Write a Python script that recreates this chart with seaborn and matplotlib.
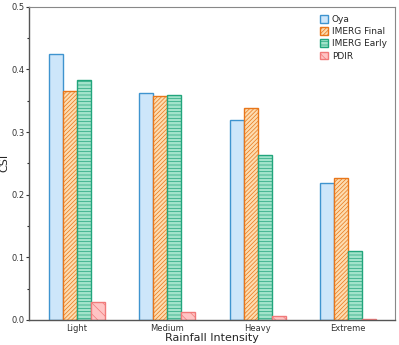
import matplotlib
matplotlib.use("Agg")
import matplotlib.pyplot as plt
import seaborn as sns
import pandas as pd
import numpy as np
from matplotlib.ticker import MultipleLocator
from matplotlib.patches import Patch

categories = ["Light", "Medium", "Heavy", "Extreme"]
products = ["Oya", "IMERG Final", "IMERG Early", "PDIR"]
oya = [0.425, 0.362, 0.319, 0.218]
imerg_final = [0.366, 0.357, 0.338, 0.227]
imerg_early = [0.383, 0.359, 0.263, 0.110]
pdir = [0.028, 0.013, 0.006, 0.002]

values = [oya, imerg_final, imerg_early, pdir]
rows = []
for p, vals in zip(products, values):
    for c, v in zip(categories, vals):
        rows.append({"Rainfall Intensity": c, "CSI": v, "Product": p})
df = pd.DataFrame(rows)

faces = ["#cde6fa", "#fddcb0", "#a3e3cb", "#ffc4c4"]
edges = ["#3f94cf", "#e8761a", "#22a57c", "#f07a7a"]
hatches = [None, "////////", "-----", "\\\\\\"]

sns.set_style("white")
plt.rcParams["font.family"] = ["DejaVu Sans"]
plt.rcParams["hatch.linewidth"] = 0.5

fig = plt.figure(figsize=(3.99, 3.45), dpi=100)
ax = fig.add_axes([0.073, 0.073, 0.917, 0.907])

sns.barplot(data=df, x="Rainfall Intensity", y="CSI", hue="Product",
            order=categories, hue_order=products, width=0.62,
            palette=faces, ax=ax, legend=False, saturation=1)

for i, container in enumerate(ax.containers):
    for bar in container:
        bar.set_facecolor(faces[i])
        bar.set_edgecolor(edges[i])
        bar.set_linewidth(1.0)
        if hatches[i]:
            bar.set_hatch(hatches[i])

ax.set_ylim(0, 0.5)
ax.set_xlim(-0.53, 3.52)
ax.yaxis.set_major_locator(MultipleLocator(0.1))
ax.yaxis.set_minor_locator(MultipleLocator(0.05))
ax.set_yticklabels([f"{t:.1f}" for t in ax.get_yticks()])
ax.tick_params(axis="both", which="major", labelsize=6, length=2.5, width=0.8,
               direction="out", pad=1.0, left=True, bottom=False, colors="#333333")
ax.tick_params(axis="x", which="major", pad=0.5)
ax.tick_params(axis="y", which="minor", length=1.5, width=0.8, left=True)
ax.set_ylabel("CSI", fontsize=8)
ax.yaxis.set_label_coords(-0.055, 0.5)
ax.set_xlabel("Rainfall Intensity", fontsize=8, labelpad=0)

for side in ["left", "bottom"]:
    ax.spines[side].set_color("#555555")
    ax.spines[side].set_linewidth(1.0)
for side in ["top", "right"]:
    ax.spines[side].set_color("#888888")
    ax.spines[side].set_linewidth(0.8)

handles = [Patch(facecolor=faces[i], edgecolor=edges[i], hatch=hatches[i], label=products[i])
           for i in range(4)]
ax.legend(handles=handles, loc="upper right", frameon=False, fontsize=6.5,
          handlelength=0.9, handleheight=0.9, handletextpad=0.4, labelspacing=0.35,
          borderaxespad=0.5)

fig.savefig("out.png", dpi=100)
